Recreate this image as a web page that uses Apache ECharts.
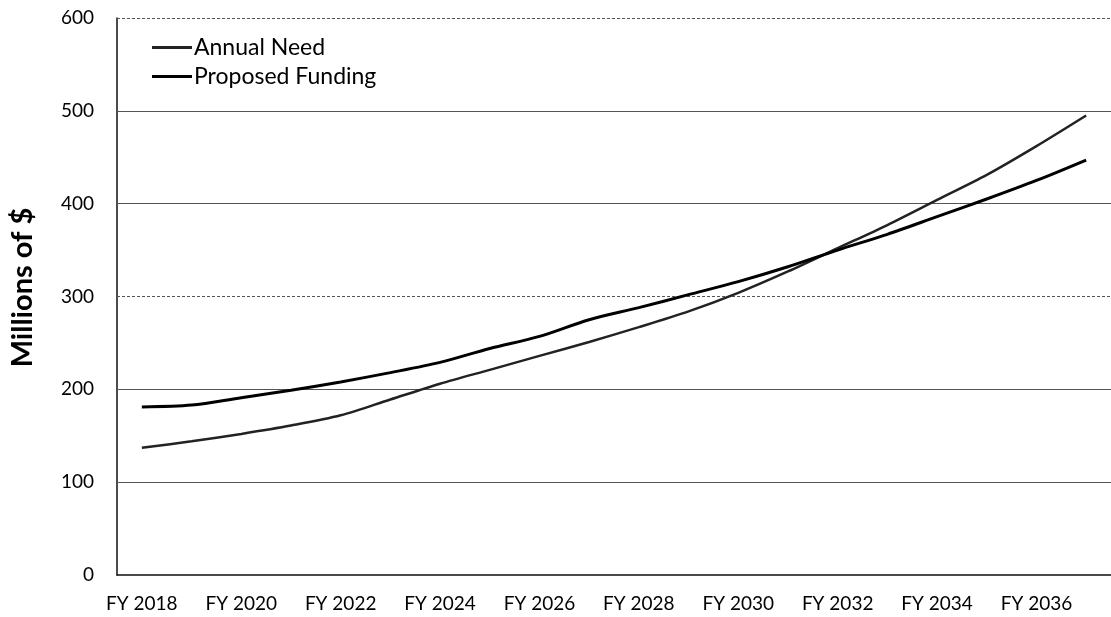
<!DOCTYPE html>
<html>
<head>
<meta charset="utf-8">
<script src="https://cdn.jsdelivr.net/npm/echarts@6/dist/echarts.min.js"></script>
<style>
html,body{margin:0;padding:0;background:#fff;}
#chart{width:1111px;height:617px;}
</style>
</head>
<body>
<div id="chart"></div>
<script>
var years = ['FY 2018','FY 2019','FY 2020','FY 2021','FY 2022','FY 2023','FY 2024','FY 2025','FY 2026','FY 2027',
             'FY 2028','FY 2029','FY 2030','FY 2031','FY 2032','FY 2033','FY 2034','FY 2035','FY 2036','FY 2037'];
var annualNeed = [137,144,152,161,172,189,206,221,236,251,267,284,304,327,352,377,404,431,462,495];
var proposedFunding = [181,183,191,199,208,218,229,244,257,275,288,302,316,332,350,367,386,405,425,447];
var solidGrid = [100,200,400,500];
var dashedGrid = [300,600];

var gridLines = solidGrid.map(function(v){
  return {yAxis:v, lineStyle:{type:'solid', color:'#555', width:1}};
}).concat(dashedGrid.map(function(v){
  return {yAxis:v, lineStyle:{type:[3,2], color:'#555', width:1}};
}));

var chart = echarts.init(document.getElementById('chart'));
chart.setOption({
  animation:false,
  backgroundColor:'#fff',
  grid:{left:112, right:-6, top:18, bottom:42, containLabel:false},
  legend:{
    orient:'vertical', left:147, top:31, itemWidth:40, itemHeight:3, itemGap:6,
    textStyle:{fontFamily:'Lato', fontSize:23, color:'#000', padding:[0,0,0,-3]},
    data:[{name:'Annual Need', icon:'rect'},{name:'Proposed Funding', icon:'rect'}]
  },
  xAxis:{
    type:'category', data:years, boundaryGap:true,
    axisLine:{show:true, lineStyle:{color:'#111', width:1.5}},
    axisTick:{show:false},
    axisLabel:{interval:1, fontFamily:'Lato', fontSize:19, color:'#000', margin:19}
  },
  yAxis:{
    type:'value', min:0, max:600, interval:100,
    name:'Millions of $', nameLocation:'middle', nameGap:80, nameRotate:90,
    nameTextStyle:{fontFamily:'Lato', fontSize:29, fontWeight:'bold', color:'#000', padding:[0,0,0,18]},
    axisLine:{show:true, lineStyle:{color:'#111', width:1.5}},
    axisTick:{show:false},
    splitLine:{show:false},
    axisLabel:{fontFamily:'Lato', fontSize:19, color:'#000', margin:23}
  },
  series:[
    {
      name:'Annual Need', type:'line', data:annualNeed, smooth:0.3, symbol:'none',
      lineStyle:{color:'#222', width:2.5}, itemStyle:{color:'#222'}, z:3,
      markLine:{silent:true, symbol:'none', label:{show:false}, data:gridLines, z:1}
    },
    {
      name:'Proposed Funding', type:'line', data:proposedFunding, smooth:0.3, symbol:'none',
      lineStyle:{color:'#000', width:3}, itemStyle:{color:'#000'}, z:4
    }
  ]
});
</script>
</body>
</html>
